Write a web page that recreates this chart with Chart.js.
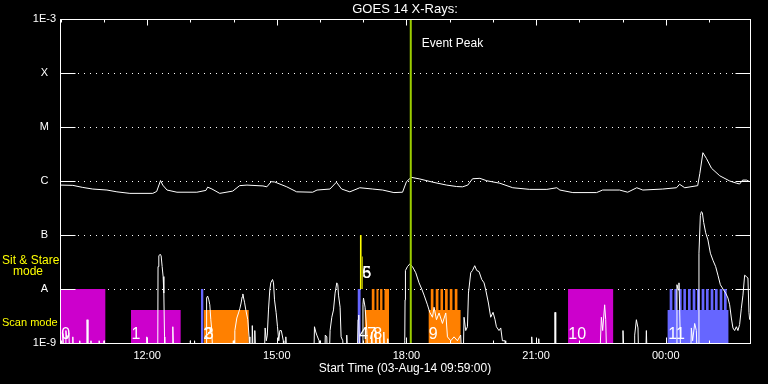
<!DOCTYPE html>
<html>
<head>
<meta charset="utf-8">
<title>GOES 14 X-Rays</title>
<script src="https://cdn.jsdelivr.net/npm/chart.js@4.4.1/dist/chart.umd.min.js"></script>
<style>
    html, body { margin: 0; padding: 0; background: #000; }
    #wrap { width: 768px; height: 384px; }
</style>
</head>
<body>
<div id="wrap"><canvas id="goesChart" width="768" height="384"></canvas></div>
<script>
// Time axis: decimal hours of 03-Aug-14 (values above 24 are the next day)
const startHour = 9 + 59 / 60;
const endHour = 25.95;
const hourTicks = [12, 15, 18, 21, 24];
const fluxTicks = [1e-9, 1e-8, 1e-7, 1e-6, 1e-5, 1e-4, 1e-3];
const fluxTickLabels = ['1E-9', 'A', 'B', 'C', 'M', 'X', '1E-3'];
const F = 5e-10; // short channel below the plot floor

// GOES 1-8 A channel
const longTime = [9.99, 10.28, 10.51, 10.74, 11.07, 11.30, 11.60, 12.13, 12.22, 12.31,
    12.36, 12.46, 12.69, 13.15, 13.36, 13.40, 13.50, 13.68, 13.98, 14.14,
    14.31, 14.68, 14.77, 14.87, 14.95, 15.23, 15.46, 15.83, 15.93, 16.23,
    16.38, 16.50, 16.69, 16.92, 17.22, 17.45, 17.71, 17.91, 18.00, 18.11,
    18.31, 18.61, 18.93, 19.16, 19.30, 19.42, 19.53, 19.70, 19.86, 20.16,
    20.46, 20.85, 21.25, 21.48, 21.55, 21.85, 22.40, 22.54, 22.93, 23.12,
    23.33, 23.47, 23.93, 24.25, 24.32, 24.44, 24.74, 24.79, 24.86, 24.94,
    25.06, 25.25, 25.48, 25.64, 25.71, 25.78, 25.87, 25.93];
const longFlux = [8.4e-7, 8.3e-7, 7.6e-7, 7.1e-7, 6.8e-7, 6.3e-7, 5.9e-7, 5.9e-7, 6.4e-7, 1.02e-6,
    8.4e-7, 6.8e-7, 6.2e-7, 6.2e-7, 6.7e-7, 7.7e-7, 7.1e-7, 5.9e-7, 6.5e-7, 8.2e-7,
    8.4e-7, 8.1e-7, 7.8e-7, 9.7e-7, 9.6e-7, 7.8e-7, 6.3e-7, 6.2e-7, 6.8e-7, 7.1e-7,
    9.5e-7, 7.1e-7, 6.3e-7, 7.5e-7, 7.1e-7, 6.8e-7, 6.1e-7, 6.2e-7, 9.7e-7, 1.17e-6,
    1.09e-6, 9.5e-7, 8.4e-7, 7.9e-7, 7.8e-7, 8.4e-7, 1.1e-6, 1.12e-6, 1.01e-6, 9.1e-7,
    7.5e-7, 7.0e-7, 7.0e-7, 7.5e-7, 6.8e-7, 6.1e-7, 6.1e-7, 6.8e-7, 6.8e-7, 6.2e-7,
    7.5e-7, 6.8e-7, 7.1e-7, 7.5e-7, 8.7e-7, 7.5e-7, 8.2e-7, 1.39e-6, 3.34e-6, 2.63e-6,
    1.72e-6, 1.25e-6, 1.0e-6, 9.1e-7, 8.8e-7, 1.04e-6, 1.04e-6, 9.8e-7];

// GOES 0.5-4 A channel
const shortTime = [9.983, 10.00, 10.04, 10.05, 10.07, 10.11, 10.12, 10.14, 10.19, 10.21,
    10.27, 10.28, 10.30, 10.43, 10.44, 10.47, 10.60, 10.61, 10.63, 10.69,
    10.70, 10.72, 10.88, 10.89, 10.92, 10.99, 11.00, 11.02, 11.98, 11.99,
    12.02, 12.245, 12.252, 12.270, 12.301, 12.324, 12.347, 12.370, 12.386, 12.402,
    12.409, 12.585, 12.594, 12.618, 12.99, 12.999, 13.022, 13.09, 13.097, 13.115,
    13.365, 13.376, 13.399, 13.427, 13.450, 13.473, 13.497, 13.520, 13.985, 13.994,
    14.005, 14.02, 14.029, 14.075, 14.114, 14.144, 14.174, 14.197, 14.214, 14.237,
    14.253, 14.283, 14.329, 14.359, 14.376, 14.425, 14.433, 14.456, 14.483, 14.491,
    14.514, 14.711, 14.730, 14.757, 14.780, 14.808, 14.838, 14.861, 14.901, 14.924,
    14.947, 14.984, 15.016, 15.046, 15.070, 15.104, 15.151, 15.162, 15.200, 15.209,
    15.232, 15.856, 15.872, 15.902, 15.926, 15.979, 15.995, 16.111, 16.122, 16.157,
    16.168, 16.215, 16.233, 16.273, 16.312, 16.349, 16.388, 16.411, 16.428, 16.465,
    16.488, 16.527, 16.539, 16.610, 16.619, 16.643, 16.862, 16.881, 16.897, 16.920,
    16.978, 16.994, 17.006, 17.043, 17.082, 17.105, 17.175, 17.198, 17.221, 17.280,
    17.290, 17.314, 17.375, 17.383, 17.406, 17.468, 17.476, 17.499, 17.560, 17.568,
    17.591, 17.950, 17.961, 17.968, 17.977, 18.024, 18.077, 18.139, 18.216, 18.292,
    18.354, 18.408, 18.486, 18.540, 18.602, 18.639, 18.695, 18.755, 18.833, 18.910,
    18.949, 19.025, 19.101, 19.180, 19.256, 19.280, 19.314, 19.333, 19.372, 19.412,
    19.435, 19.488, 19.527, 19.580, 19.627, 19.680, 19.742, 19.796, 19.835, 19.897,
    19.950, 20.004, 20.050, 20.082, 20.142, 20.182, 20.221, 20.281, 20.297, 20.890,
    20.899, 20.922, 21.052, 21.061, 21.084, 21.430, 21.438, 21.454, 22.472, 22.511,
    22.541, 22.587, 22.611, 22.634, 22.992, 23.011, 23.038, 23.270, 23.282, 23.321,
    23.358, 23.374, 23.536, 23.552, 23.571, 24.242, 24.260, 24.288, 24.307, 24.323,
    24.346, 24.577, 24.593, 24.623, 24.670, 24.709, 24.727, 24.755, 24.769, 24.801,
    24.824, 24.847, 24.878, 24.924, 24.977, 25.033, 25.093, 25.155, 25.208, 25.264,
    25.324, 25.387, 25.440, 25.479, 25.518, 25.555, 25.595, 25.634, 25.671, 25.710,
    25.750, 25.787, 25.826, 25.865, 25.902, 25.926, 25.942];
const shortFlux = [4.3e-9, F, F, 1.5e-9, F, F, 1.7e-9, 1.2e-9, 1.5e-9, F,
    F, 1.3e-9, F, F, 1.1e-9, F, F, 2.7e-9, F, F,
    1.1e-9, F, F, 1.1e-9, F, F, 1.1e-9, F, F, 1.3e-9,
    F, F, 2.6e-8, 4.1e-8, 4.4e-8, 4.1e-8, 2.6e-8, 1.7e-8, 8.4e-9, 1.3e-9,
    F, F, 2.0e-9, F, F, 1.1e-9, F, F, 1.1e-9, F,
    F, 6.8e-9, 7.4e-9, 6.3e-9, 5.1e-9, 2.7e-9, 1.7e-9, F, F, 1.1e-9,
    F, F, 1.7e-9, 2.9e-9, 3.6e-9, 4.3e-9, 5.5e-9, 7.1e-9, 8.1e-9, 6.5e-9,
    5.7e-9, 4.1e-9, 2.7e-9, 1.3e-9, F, F, 2.1e-9, F, F, 1.7e-9,
    F, F, 1.9e-9, 1.1e-9, 1.4e-9, 4.1e-9, 9.6e-9, 1.3e-8, 1.5e-8, 1.3e-8,
    6.3e-9, 3.7e-9, 2.0e-9, 1.1e-9, 1.7e-9, 1.7e-9, 1.1e-9, F, F, 1.3e-9,
    F, F, 2.0e-9, 1.6e-9, 1.4e-9, 1.1e-9, F, F, 1.4e-9, 1.3e-9,
    F, F, 1.7e-9, 3.0e-9, 4.1e-9, 8.4e-9, 1.3e-8, 1.2e-8, 7.7e-9, 4.6e-9,
    1.3e-9, 1.1e-9, F, F, 1.4e-9, F, F, 2.7e-9, 3.3e-9, F,
    F, 5.1e-9, 6.8e-9, 4.6e-9, 1.7e-9, F, F, 1.6e-9, F, F,
    1.7e-9, F, F, 1.3e-9, F, F, 1.6e-9, F, F, 1.2e-9,
    F, F, 1.1e-9, 6.3e-9, 2.2e-8, 2.6e-8, 2.9e-8, 2.6e-8, 2.0e-8, 1.3e-8,
    1.0e-8, 7.7e-9, 5.1e-9, 3.7e-9, 3.0e-9, 4.6e-9, 2.7e-9, 3.6e-9, 2.3e-9, 3.6e-9,
    1.3e-9, 1.1e-9, 1.3e-9, 1.1e-9, 1.4e-9, F, F, 3.0e-9, 1.7e-9, 2.0e-9,
    8.4e-9, 2.0e-8, 2.2e-8, 2.7e-8, 2.2e-8, 2.1e-8, 1.5e-8, 1.3e-8, 9.6e-9, 5.5e-9,
    3.0e-9, 3.7e-9, 2.7e-9, 2.0e-9, 1.7e-9, 1.9e-9, 1.1e-9, 1.1e-9, F, F,
    1.3e-9, F, F, 1.2e-9, F, F, 3.7e-9, F, F, 3.0e-9,
    1.7e-9, 5.1e-9, 2.7e-9, F, F, 1.7e-9, F, F, 1.4e-9, 2.7e-9,
    1.9e-9, F, F, 1.7e-9, F, F, 1.2e-8, 9.6e-9, 1.3e-8, 4.1e-9,
    F, F, 1.9e-9, 1.1e-9, 2.3e-9, 1.7e-9, F, F, 4.6e-8, 2.3e-7,
    2.7e-7, 2.6e-7, 1.7e-7, 1.1e-7, 8.1e-8, 4.6e-8, 3.4e-8, 2.6e-8, 1.8e-8, 1.2e-8,
    1.0e-8, 8.4e-9, 6.8e-9, 5.1e-9, 2.9e-9, 1.9e-9, 1.7e-9, 2.0e-9, 1.7e-9, 2.2e-9,
    4.4e-9, 7.7e-9, 1.8e-8, 1.7e-8, 1.6e-8, 3.7e-9, 2.7e-9];

// observation blocks (drawn in the lower band)
const obsStart = [9.983, 11.623, 13.242, 13.305, 16.867, 17.029, 18.509, 21.739, 24.038];
const obsEnd   = [11.038, 12.779, 13.305, 14.353, 16.943, 17.598, 19.257, 22.789, 25.456];
const obsTop   = [1e-8, 4.1e-9, 1e-8, 4.1e-9, 1e-8, 4.1e-9, 4.1e-9, 1e-8, 4.1e-9];
const obsKind  = ['m', 'm', 'b', 'o', 'b', 'o', 'o', 'm', 'b'];
const rasterStart = [17.198, 17.306, 17.390, 17.492, 18.563, 18.678, 18.787, 18.893, 19.002, 19.118,
    24.091, 24.200, 24.307, 24.408, 24.515, 24.623, 24.723, 24.831, 24.931, 25.040, 25.139, 25.248, 25.348];
const rasterEnd = [17.260, 17.353, 17.445, 17.598, 18.625, 18.741, 18.847, 18.955, 19.064, 19.180,
    24.154, 24.260, 24.369, 24.468, 24.577, 24.686, 24.785, 24.894, 24.993, 25.102, 25.201, 25.310, 25.410];
const rasterTop = 1e-8;

// sit & stare blocks
const stareStart = [16.920, 16.966];
const stareEnd = [16.966, 16.990];
const stareTop = [1e-7, 4e-8];
const stareBase = 1e-8;

const obsLabelText = ['0', '1', '2', '3', '4', '7', '8', '5', '6', '9', '10', '11'];
const obsLabelTime = [10.01, 11.635, 13.30, 13.335, 16.909, 17.094, 17.233, 16.978, 16.978, 18.517, 21.744, 24.057];
const obsLabelFlux = [1.2e-9, 1.2e-9, 1.2e-9, 1.2e-9, 1.2e-9, 1.2e-9, 1.2e-9, 1.6e-8, 1.6e-8, 1.2e-9, 1.2e-9, 1.2e-9];

const eventPeak = 18.10;

const FONT = '"Liberation Sans", Arial, sans-serif';
const kindColour = { m: '#cc00cc', o: '#ff8000', b: '#6666ff' };

function blockPoints(i) {
    const pts = [{ x: obsStart[i], y: obsTop[i] }];
    rasterStart.forEach((s, k) => {
        if (s >= obsStart[i] && rasterEnd[k] <= obsEnd[i] + 1e-6) {
            pts.push({ x: s, y: obsTop[i] }, { x: s, y: rasterTop },
                     { x: rasterEnd[k], y: rasterTop }, { x: rasterEnd[k], y: obsTop[i] });
        }
    });
    pts.push({ x: obsEnd[i], y: obsTop[i] });
    return pts;
}

const datasets = [
    {
        data: [{ x: eventPeak, y: 1e-9 }, { x: eventPeak, y: 1e-3 }],
        borderColor: '#9bcd00', borderWidth: 2, order: 0
    },
    {
        data: longTime.map((t, i) => ({ x: t, y: longFlux[i] })),
        borderColor: '#ffffff', borderWidth: 1, order: 1
    },
    {
        data: shortTime.map((t, i) => ({ x: t, y: shortFlux[i] })),
        borderColor: '#ffffff', borderWidth: 1, order: 1
    }
];
obsStart.forEach((s, i) => {
    datasets.push({
        data: blockPoints(i),
        borderWidth: 0, borderColor: 'rgba(0,0,0,0)',
        backgroundColor: kindColour[obsKind[i]], fill: 'start', order: 2
    });
});
stareStart.forEach((s, i) => {
    datasets.push({
        data: [{ x: s, y: stareTop[i] }, { x: stareEnd[i], y: stareTop[i] }],
        borderWidth: 0, borderColor: 'rgba(0,0,0,0)',
        backgroundColor: '#ffff00', fill: { value: stareBase }, order: 2
    });
});

// frame, inward ticks, dotted levels and the free text
const framePlugin = {
    id: 'framePlugin',
    beforeDatasetsDraw(chart) {
        const { ctx, chartArea: a, scales: { y } } = chart;
        ctx.save();
        ctx.strokeStyle = '#ffffff';
        ctx.lineWidth = 1;
        ctx.setLineDash([1, 5]);
        fluxTicks.slice(1, -1).forEach(v => {
            const py = Math.round(y.getPixelForValue(v)) + 0.5;
            ctx.beginPath();
            ctx.moveTo(a.left + 18, py);
            ctx.lineTo(a.right - 15, py);
            ctx.stroke();
        });
        ctx.restore();
    },
    afterDatasetsDraw(chart) {
        const { ctx, chartArea: a, scales: { x, y } } = chart;
        ctx.save();
        ctx.strokeStyle = '#ffffff';
        ctx.lineWidth = 1;
        const l = Math.round(a.left) + 0.5, r = Math.round(a.right) + 0.5;
        const t = Math.round(a.top) + 0.5, b = Math.round(a.bottom) + 0.5;
        ctx.strokeRect(l, t, r - l, b - t);
        ctx.beginPath();
        for (let h = Math.ceil(startHour); h <= endHour; h++) {
            const px = Math.round(x.getPixelForValue(h)) + 0.5;
            const len = h % 3 === 0 ? 6 : 3;
            ctx.moveTo(px, t); ctx.lineTo(px, t + len);
            ctx.moveTo(px, b); ctx.lineTo(px, b - len);
        }
        fluxTicks.slice(1, -1).forEach(v => {
            const py = Math.round(y.getPixelForValue(v)) + 0.5;
            ctx.moveTo(l, py); ctx.lineTo(l + 15, py);
            ctx.moveTo(r, py); ctx.lineTo(r - 15, py);
        });
        ctx.stroke();

        // observation numbers
        ctx.fillStyle = '#ffffff';
        ctx.font = '16px ' + FONT;
        ctx.textBaseline = 'alphabetic';
        obsLabelText.forEach((txt, i) => {
            ctx.fillText(txt, x.getPixelForValue(obsLabelTime[i]), y.getPixelForValue(obsLabelFlux[i]));
        });

        ctx.font = '12px ' + FONT;
        ctx.fillText('Event Peak', x.getPixelForValue(eventPeak) + 11, a.top + 28);

        // mode captions left of the axis
        ctx.fillStyle = '#ffff00';
        ctx.textBaseline = 'middle';
        ctx.fillText('Sit & Stare', 2, y.getPixelForValue(3.4e-8));
        ctx.fillText('mode', 13, y.getPixelForValue(2.05e-8));
        ctx.font = '11px ' + FONT;
        ctx.fillText('Scan mode', 2, y.getPixelForValue(2.3e-9));
        ctx.restore();
    }
};

new Chart(document.getElementById('goesChart'), {
    type: 'line',
    data: { datasets },
    options: {
        responsive: false,
        animation: false,
        events: [],
        elements: { point: { radius: 0 }, line: { tension: 0 } },
        layout: { padding: { left: 0, right: 18, top: 0, bottom: 0 } },
        plugins: {
            legend: { display: false },
            tooltip: { enabled: false },
            title: {
                display: true,
                fullSize: false,
                text: 'GOES 14 X-Rays:',
                color: '#ffffff',
                font: { family: FONT, size: 13, weight: 'normal' },
                padding: { top: 2, bottom: 1.4 }
            }
        },
        scales: {
            x: {
                type: 'linear',
                min: startHour,
                max: endHour,
                grid: { display: false, drawTicks: false },
                border: { display: false },
                afterBuildTicks: s => { s.ticks = hourTicks.map(v => ({ value: v })); },
                afterFit: s => { s.height = 41; },
                ticks: {
                    color: '#ffffff',
                    font: { family: FONT, size: 11 },
                    padding: 6,
                    maxRotation: 0,
                    autoSkip: false,
                    callback: v => String(v % 24).padStart(2, '0') + ':00'
                },
                title: {
                    display: true,
                    text: 'Start Time (03-Aug-14 09:59:00)',
                    color: '#ffffff',
                    font: { family: FONT, size: 12 },
                    padding: { top: 0, bottom: 8 }
                }
            },
            y: {
                type: 'logarithmic',
                min: 1e-9,
                max: 1e-3,
                grid: { display: false, drawTicks: false },
                border: { display: false },
                afterBuildTicks: s => { s.ticks = fluxTicks.map(v => ({ value: v })); },
                afterFit: s => { s.width = 60; },
                ticks: {
                    color: '#ffffff',
                    font: { family: FONT, size: 11 },
                    padding: 4,
                    crossAlign: 'center',
                    autoSkip: false,
                    callback: v => fluxTickLabels[fluxTicks.indexOf(v)]
                }
            }
        }
    },
    plugins: [framePlugin]
});
</script>
</body>
</html>
